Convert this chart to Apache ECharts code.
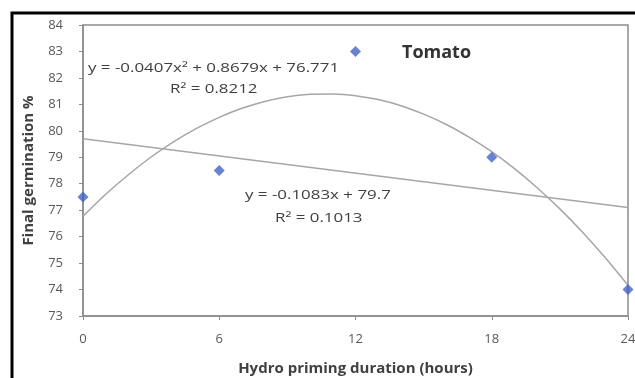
<!DOCTYPE html>
<html>
<head>
<meta charset="utf-8">
<script src="https://cdn.jsdelivr.net/npm/echarts@6/dist/echarts.min.js"></script>
<style>
  html, body { margin: 0; padding: 0; background: #fff; }
  #chart { width: 635px; height: 378px; }
</style>
</head>
<body>
<div id="chart"></div>
<script>
// measured points
const hours = [0, 6, 12, 18, 24];
const germination = [77.5, 78.5, 83, 79, 74];

// trend lines (one reading per hour)
const polyX = [0, 1, 2, 3, 4, 5, 6, 7, 8, 9, 10, 11, 12, 13, 14, 15, 16, 17, 18, 19, 20, 21, 22, 23, 24];
const polyY = [76.77, 77.6, 78.34, 79.01, 79.59, 80.09, 80.51, 80.85, 81.11, 81.29, 81.38, 81.39, 81.33,
               81.18, 80.95, 80.63, 80.24, 79.76, 79.21, 78.57, 77.85, 77.05, 76.17, 75.2, 74.16];
const linX = [0, 24];
const linY = [79.7, 77.1];

const xTicks = [0, 6, 12, 18, 24];
const yMin = 73, yMax = 84;

const pair = (xs, ys) => xs.map((x, i) => [x, ys[i]]);
const font = '"Open Sans", "Liberation Sans", sans-serif';

// trendline labels are a bit wide in the original, so stretch them a little
const label = (text, x, y) => ({
  type: 'text', x: x, y: y, scaleX: 1.3,
  style: { text: text, font: '13px ' + font, fill: '#404040', verticalAlign: 'middle' }
});

const chart = echarts.init(document.getElementById('chart'));
chart.setOption({
  animation: false,
  textStyle: { fontFamily: font },
  grid: {
    left: 83, right: 7, top: 25, bottom: 62,
    outerBoundsMode: 'none',
    show: true, borderColor: '#8c8c8c', borderWidth: 1.5
  },
  xAxis: {
    type: 'value', min: 0, max: 24, interval: 6,
    name: 'Hydro priming duration (hours)',
    nameLocation: 'middle', nameGap: 45,
    nameTextStyle: { fontWeight: 'bold', fontSize: 15, color: '#404040' },
    axisLine: { lineStyle: { color: '#8c8c8c', width: 1.5 } },
    axisTick: { show: true, length: 4, lineStyle: { color: '#8c8c8c' } },
    axisLabel: { color: '#595959', fontSize: 13, margin: 17,
      formatter: v => xTicks.includes(v) ? String(v) : '' },
    splitLine: { show: false }
  },
  yAxis: {
    type: 'value', min: yMin, max: yMax, interval: 1,
    name: 'Final germination %',
    nameLocation: 'middle', nameGap: 47, nameRotate: 90,
    nameTextStyle: { fontWeight: 'bold', fontSize: 15, color: '#404040' },
    axisLine: { show: true, lineStyle: { color: '#8c8c8c', width: 1.5 } },
    axisTick: { show: true, length: 4, lineStyle: { color: '#8c8c8c' } },
    axisLabel: { color: '#595959', fontSize: 13, margin: 20 },
    splitLine: { show: false }
  },
  series: [
    {
      type: 'line', data: pair(polyX, polyY), smooth: 0.2,
      symbol: 'none', lineStyle: { color: '#a6a6a6', width: 1.5 }
    },
    {
      type: 'line', data: pair(linX, linY),
      symbol: 'none', lineStyle: { color: '#a6a6a6', width: 1.5 }
    },
    {
      type: 'scatter', data: pair(hours, germination),
      symbol: 'diamond', symbolSize: [11, 11],
      itemStyle: { color: '#4262c8' }, z: 5
    }
  ],
  graphic: [
    { type: 'rect', shape: { x: 12, y: 13, width: 640, height: 380 },
      style: { fill: 'none', stroke: '#000', lineWidth: 3 }, silent: true },
    { type: 'text', x: 402, y: 53,
      style: { text: 'Tomato', font: 'bold 18px ' + font, fill: '#333', verticalAlign: 'middle' } },
    label('y = -0.0407x² + 0.8679x + 76.771', 88, 68),
    label('R² = 0.8212', 170, 89),
    label('y = -0.1083x + 79.7', 245, 195),
    label('R² = 0.1013', 275, 218)
  ]
});
</script>
</body>
</html>
